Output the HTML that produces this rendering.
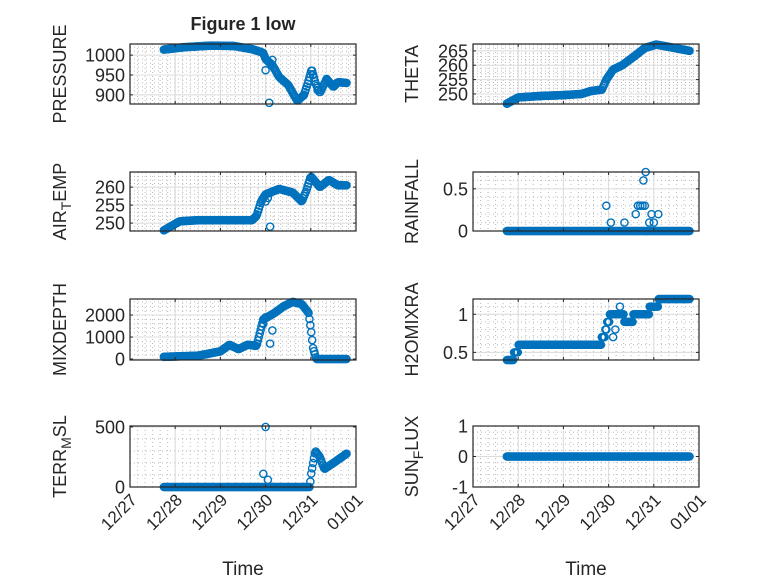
<!DOCTYPE html>
<html><head><meta charset="utf-8"><style>
html,body{margin:0;padding:0;background:#fff}
svg{display:block}
text{font-family:"Liberation Sans",sans-serif;fill:#262626}
</style></head><body>
<svg id="s" width="778" height="583" xmlns="http://www.w3.org/2000/svg">
<text x="243" y="30" text-anchor="middle" font-size="18" font-weight="bold" fill="#000">Figure 1 low</text>
<text x="243" y="575" text-anchor="middle" font-size="19">Time</text>
<text x="586" y="575" text-anchor="middle" font-size="19">Time</text>
</svg>
<script>
const S=document.getElementById('s');const NS='http://www.w3.org/2000/svg';
function el(t,a,p){const e=document.createElementNS(NS,t);for(const k in a)e.setAttribute(k,a[k]);(p||S).appendChild(e);return e;}
function interp(kp,t){if(t<=kp[0][0])return kp[0][1];for(let i=1;i<kp.length;i++){if(t<=kp[i][0]){const a=kp[i-1],b=kp[i];return a[1]+(b[1]-a[1])*(t-a[0])/(b[0]-a[0]);}}return kp[kp.length-1][1];}
function step(st,t){let v=st[0][1];for(const s of st){if(t>=s[0])v=s[1];}return v;}
const T=[];for(let t=0.75;t<=4.801;t+=0.02)T.push(t);
function plot(o){
 const {x0,y0,w,h,ymin,ymax,yt,label,sub,data,xlab}=o;
 const X=t=>x0+t*w/5, Y=v=>y0+h-(v-ymin)/(ymax-ymin)*h;
 const g=el('g',{});
 for(let t=0;t<=5;t+=1/6){const xx=X(t);el('line',{x1:xx,x2:xx,y1:y0,y2:y0+h,stroke:'#bbb','stroke-width':1,'stroke-dasharray':'1,3'},g);}
 for(let v=Math.ceil(ymin/o.ym)*o.ym;v<=ymax;v+=o.ym){const yy=Y(v);el('line',{x1:x0,x2:x0+w,y1:yy,y2:yy,stroke:'#bbb','stroke-width':1,'stroke-dasharray':'1,3'},g);}
 for(let d=1;d<5;d++){el('line',{x1:X(d),x2:X(d),y1:y0,y2:y0+h,stroke:'#dcdcdc','stroke-width':1},g);}
 yt.forEach(v=>{el('line',{x1:x0,x2:x0+w,y1:Y(v),y2:Y(v),stroke:'#dcdcdc','stroke-width':1},g);});
 data.forEach(p=>{const yy=Y(p[1]);el('circle',{cx:X(p[0]),cy:yy,r:3.6,fill:'none',stroke:'#0072BD','stroke-width':1.4},g);});
 el('rect',{x:x0,y:y0,width:w,height:h,fill:'none',stroke:'#262626','stroke-width':1.2},g);
 for(let d=0;d<=5;d++){const xx=X(d);el('line',{x1:xx,x2:xx,y1:y0+h,y2:y0+h-3,stroke:'#262626'},g);el('line',{x1:xx,x2:xx,y1:y0,y2:y0+3,stroke:'#262626'},g);}
 yt.forEach(v=>{const yy=Y(v);el('line',{x1:x0,x2:x0+3,y1:yy,y2:yy,stroke:'#262626'},g);el('line',{x1:x0+w,x2:x0+w-3,y1:yy,y2:yy,stroke:'#262626'},g);
  const t=el('text',{x:x0-5,y:yy+6.5,'text-anchor':'end','font-size':18},g);t.textContent=v;});
 const cx=o.lx, cy=y0+h/2;
 const t=el('text',{x:0,y:0,'text-anchor':'middle','font-size':18,transform:`translate(${cx},${cy}) rotate(-90)`},g);
 if(sub){const a=el('tspan',{},t);a.textContent=sub[0];const b=el('tspan',{dy:5,'font-size':14},t);b.textContent=sub[1];const c=el('tspan',{dy:-5},t);c.textContent=sub[2];}
 else t.textContent=label;
 if(xlab){const L=['12/27','12/28','12/29','12/30','12/31','01/01'];L.forEach((s,i)=>{const xx=X(i)+8,yy=y0+h+14;const tt=el('text',{x:0,y:0,'text-anchor':'end','font-size':17,transform:`translate(${xx},${yy}) rotate(-45)`},g);tt.textContent=s;});}
}
const L=130,R=473,W=226,H=60;
let kp=[[0.75,1014],[1.2,1020],[1.8,1024],[2.3,1023],[2.7,1015],[2.9,1008],[2.95,1005],[3.0,990],[3.15,975],[3.3,945],[3.5,925],[3.7,885],[3.85,900],[3.95,935],[4.02,965],[4.1,930],[4.2,905],[4.35,940],[4.5,920],[4.6,932],[4.8,930]];
let d=T.map(t=>[t,interp(kp,t)]);d.push([3.08,880],[3.0,962],[3.15,988],[4.05,950],[4.15,912]);
plot({x0:L,y0:44,w:W,h:H,ymin:877,ymax:1028,yt:[900,950,1000],ym:10,lx:66,label:'PRESSURE',data:d});
kp=[[0.75,246.6],[1.0,248.8],[1.5,249.3],[2.0,249.6],[2.4,250],[2.6,251],[2.85,251.5],[2.95,255],[3.1,258.5],[3.3,260],[3.6,263.5],[3.8,266],[4.05,267.2],[4.3,266.5],[4.8,265]];
d=T.map(t=>[t,interp(kp,t)]);
plot({x0:R,y0:44,w:W,h:H,ymin:246.5,ymax:267.4,yt:[250,255,260,265],ym:1,lx:418,label:'THETA',data:d});
kp=[[0.75,248],[1.1,250.5],[1.5,250.8],[2.7,250.8],[2.8,252],[2.9,256],[3.0,258],[3.3,259.5],[3.6,258.5],[3.8,256],[3.9,259],[4.0,263],[4.2,260],[4.4,262],[4.6,260.5],[4.8,260.5]];
d=T.map(t=>[t,interp(kp,t)]);d.push([3.1,249],[3.0,256],[3.05,257]);
plot({x0:L,y0:172,w:W,h:H-1,ymin:247.8,ymax:264.2,yt:[250,255,260],ym:1,lx:66,sub:['AIR','T','EMP'],data:d});
d=T.map(t=>[t,0]);[[2.95,0.3],[3.05,0.1],[3.35,0.1],[3.6,0.2],[3.65,0.3],[3.7,0.3],[3.75,0.3],[3.8,0.3],[3.77,0.6],[3.82,0.7],[3.85,0],[3.9,0.1],[3.95,0.2],[4.0,0.1],[4.1,0.2]].forEach(p=>d.push(p));
plot({x0:R,y0:172,w:W,h:H-1,ymin:0,ymax:0.7,yt:[0,0.5],ym:0.1,lx:418,label:'RAINFALL',data:d});
kp=[[0.75,100],[1.5,150],[2.0,350],[2.2,650],[2.4,450],[2.6,650],[2.8,600],[2.85,1000],[2.95,1800],[3.2,2100],[3.4,2400],[3.6,2600],[3.8,2500],[3.95,2100],[4.0,1400],[4.05,500],[4.12,0],[4.8,0]];
d=T.map(t=>[t,interp(kp,t)]);d.push([3.1,700],[3.15,1300],[2.95,1600],[3.0,1900]);
plot({x0:L,y0:299,w:W,h:61,ymin:-45,ymax:2730,yt:[0,1000,2000],ym:200,lx:66,label:'MIXDEPTH',data:d});
let st=[[0.75,0.4],[0.9,0.5],[1.0,0.6],[2.85,0.7],[2.92,0.8],[2.97,0.9],[3.02,1.0],[3.35,0.9],[3.55,1.0],[3.9,1.1],[4.1,1.2]];
d=T.map(t=>[t,step(st,t)]);d.push([3.1,0.7],[3.15,0.8],[3.25,1.1],[3.2,1.0]);
plot({x0:R,y0:299,w:W,h:61,ymin:0.4,ymax:1.2,yt:[0.5,1],ym:0.1,lx:418,label:'H2OMIXRA',data:d});
kp=[[0.75,0],[3.98,0],[4.0,90],[4.05,200],[4.1,300],[4.2,250],[4.3,150],[4.5,200],[4.8,280]];
d=T.map(t=>[t,interp(kp,t)]);d.push([2.95,110],[3.0,500],[3.05,60]);
plot({x0:L,y0:426,w:W,h:61,ymin:0,ymax:508,yt:[0,500],ym:100,lx:66,sub:['TERR','M','SL'],data:d,xlab:1});
d=T.map(t=>[t,0]);
plot({x0:R,y0:426,w:W,h:61,ymin:-1,ymax:1,yt:[-1,0,1],ym:0.2,lx:418,sub:['SUN','F','LUX'],data:d,xlab:1});
</script>
</body></html>
